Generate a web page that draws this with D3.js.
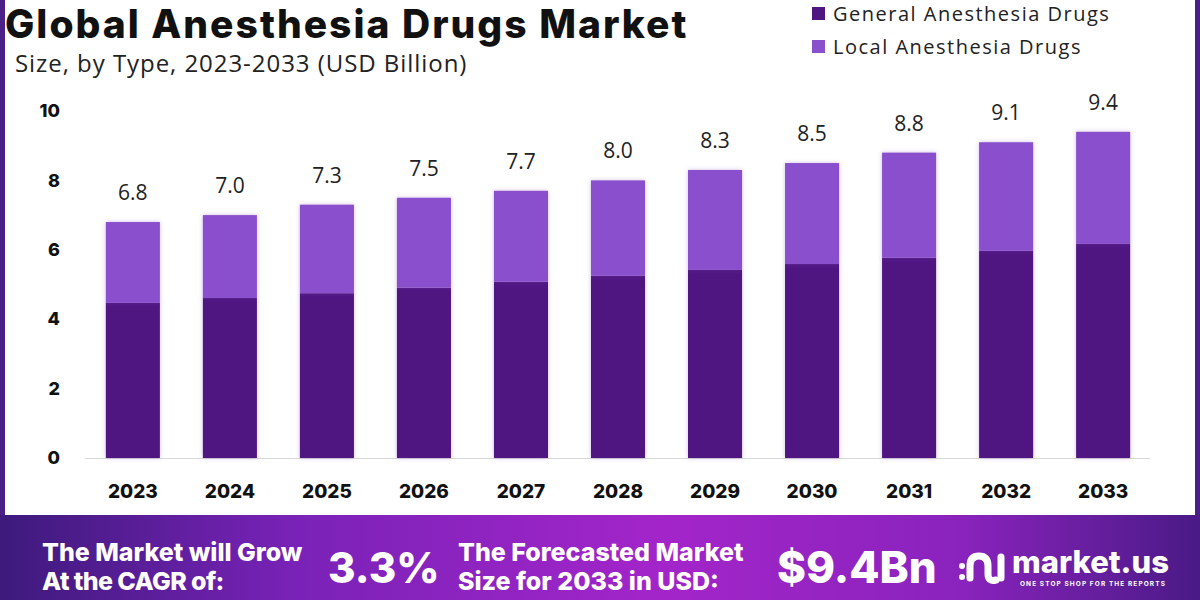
<!DOCTYPE html>
<html><head><meta charset="utf-8">
<script src="https://cdn.jsdelivr.net/npm/d3@7"></script>
<style>body{margin:0;background:#fff;}svg{display:block;}</style>
</head><body>
<script>
const years = ["2023","2024","2025","2026","2027","2028","2029","2030","2031","2032","2033"];
const totals = [6.8,7.0,7.3,7.5,7.7,8.0,8.3,8.5,8.8,9.1,9.4];
const general = [4.47,4.61,4.75,4.91,5.08,5.25,5.42,5.59,5.77,5.97,6.17];
const local = totals.map((t,i)=>+(t-general[i]).toFixed(2));
const totalLabels = ["6.8","7.0","7.3","7.5","7.7","8.0","8.3","8.5","8.8","9.1","9.4"];
const yTicks = [0,2,4,6,8,10];
const seriesNames = ["General Anesthesia Drugs","Local Anesthesia Drugs"];
const colors = ["#4f1682","#8a4fcc"];

const W=1200,H=600;
const svg=d3.select("body").append("svg").attr("width",W).attr("height",H);
const defs=svg.append("defs");
const g1=defs.append("linearGradient").attr("id","ban").attr("x1","0").attr("x2","1");
g1.append("stop").attr("offset","0").attr("stop-color","#3d1a7c");
g1.append("stop").attr("offset","0.25").attr("stop-color","#7a22b8");
g1.append("stop").attr("offset","0.55").attr("stop-color","#a325c9");
g1.append("stop").attr("offset","0.8").attr("stop-color","#8a23bd");
g1.append("stop").attr("offset","1").attr("stop-color","#4a1a86");
const f=defs.append("filter").attr("id","sh").attr("x","-20%").attr("y","-5%").attr("width","140%").attr("height","110%");
f.append("feDropShadow").attr("dx",0).attr("dy",0).attr("stdDeviation",2).attr("flood-color","#7a3fb0").attr("flood-opacity",0.35);

// frame
svg.append("rect").attr("x",0).attr("y",0).attr("width",W).attr("height",H).attr("fill","#fff");
svg.append("rect").attr("x",0).attr("y",0).attr("width",5).attr("height",515).attr("fill","#4a1f86");
svg.append("rect").attr("x",1195).attr("y",0).attr("width",5).attr("height",515).attr("fill","#4a1f86");

// title
svg.append("text").attr("x",5).attr("y",38).text("Global Anesthesia Drugs Market")
  .attr("font-family","Inter, 'Open Sans', sans-serif").attr("font-weight",800).attr("font-size",39).attr("fill","#111").attr("letter-spacing","2.0");
svg.append("text").attr("x",15).attr("y",72).text("Size, by Type, 2023-2033 (USD Billion)")
  .attr("font-family","'Open Sans', sans-serif").attr("font-size",24).attr("fill","#222").attr("letter-spacing","0.95");

// legend
seriesNames.forEach((n,i)=>{
  const y=[13,46][i];
  svg.append("rect").attr("x",812).attr("y",y-6).attr("width",13).attr("height",13).attr("fill",colors[i]);
  svg.append("text").attr("x",833).attr("y",y+8).text(n).attr("font-family","'Open Sans', sans-serif").attr("font-size",20).attr("fill","#222").attr("letter-spacing","1.5");
});

// scales
const x=d3.scaleBand().domain(years).range([84.5,1151.5]).paddingInner(0.443).paddingOuter(0.22);
const y=d3.scaleLinear().domain([0,10]).range([458,111]);

// baseline
svg.append("line").attr("x1",85).attr("x2",1150).attr("y1",y(0)+0.5).attr("y2",y(0)+0.5).attr("stroke","#d8d8d8").attr("stroke-width",1);

// y axis
const ya=svg.append("g").attr("transform","translate(60,0)").call(d3.axisLeft(y).tickValues(yTicks).tickSize(0).tickPadding(0).tickFormat(d3.format("d")));
ya.select(".domain").remove();
ya.selectAll("text").attr("font-family","Inter, 'Open Sans', sans-serif").attr("font-weight",800).attr("font-size",18).attr("fill","#111");

// x axis
const xa=svg.append("g").attr("transform","translate(0,"+(y(0))+")").call(d3.axisBottom(x).tickSize(0).tickPadding(27));
xa.select(".domain").remove();
xa.selectAll("text").attr("font-family","Inter, 'Open Sans', sans-serif").attr("font-weight",800).attr("font-size",19).attr("fill","#111");

// bars
const stackData=years.map((yr,i)=>({year:yr,g:general[i],l:local[i]}));
const stack=d3.stack().keys(["g","l"])(stackData);
svg.append("g").selectAll("g").data(stack).join("g").attr("fill",(d,i)=>colors[i])
  .selectAll("rect").data(d=>d).join("rect")
  .attr("x",d=>x(d.data.year)).attr("width",x.bandwidth())
  .attr("y",d=>y(d[1])).attr("height",d=>y(d[0])-y(d[1])).attr("filter","url(#sh)");

// value labels
svg.append("g").selectAll("text").data(years).join("text")
  .attr("x",d=>x(d)+x.bandwidth()/2).attr("y",(d,i)=>y(totals[i])-22)
  .attr("text-anchor","middle").text((d,i)=>totalLabels[i])
  .attr("font-family","'Open Sans', sans-serif").attr("font-size",21).attr("fill","#222");

// banner
svg.append("rect").attr("x",0).attr("y",515).attr("width",W).attr("height",85).attr("fill","url(#ban)");
const bf="Inter, 'Open Sans', sans-serif";
function bt(x0,y0,s,fs,w,ls){svg.append("text").attr("x",x0).attr("y",y0).text(s).attr("font-family",bf).attr("font-weight",w||800).attr("font-size",fs).attr("letter-spacing",ls||0).attr("fill","#fff");}
bt(42,561,"The Market will Grow",25);
bt(42,590,"At the CAGR of:",25,800,-0.6);
bt(328,583,"3.3%",42);
bt(458,561,"The Forecasted Market",25);
bt(458,590,"Size for 2033 in USD:",25);
bt(777,583,"$9.4Bn",44);
// logo
const lg=svg.append("g").attr("fill","none").attr("stroke","#fff").attr("stroke-linecap","round").attr("stroke-width",7);
lg.append("path").attr("d","M970,578 L970,566 Q970,556 979,556 Q988,556 988,566 L988,574 Q988,582 996,580");
lg.append("line").attr("x1",1001).attr("x2",1001).attr("y1",557).attr("y2",578);
svg.append("circle").attr("cx",962).attr("cy",566).attr("r",3).attr("fill","#fff");
svg.append("circle").attr("cx",962).attr("cy",577).attr("r",3).attr("fill","#fff");
bt(1012,573,"market.us",31);
svg.append("text").attr("x",1020).attr("y",586).text("ONE STOP SHOP FOR THE REPORTS").attr("font-family",bf).attr("font-weight",700).attr("font-size",6.5).attr("letter-spacing","1.1").attr("fill","#fff");
</script>
</body></html>
